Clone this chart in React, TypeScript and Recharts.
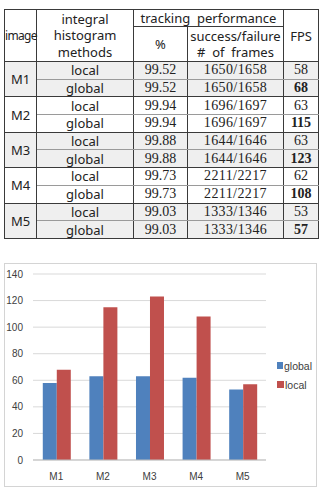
import React from 'react';
import { BarChart, Bar, XAxis, YAxis, CartesianGrid, Legend } from 'recharts';

// table values
const images = ['M1', 'M2', 'M3', 'M4', 'M5'];
const methods = ['local', 'global'];
const percents = ['99.52', '99.94', '99.88', '99.73', '99.03'];
const frames = ['1650/1658', '1696/1697', '1644/1646', '2211/2217', '1333/1346'];
const fpsLocal = [58, 63, 63, 62, 53];
const fpsGlobal = [68, 115, 123, 108, 57];

// chart values (as drawn in the figure)
const barGlobal = [58, 63, 63, 62, 53];
const barLocal = [68, 115, 123, 108, 57];
const yTicks = [0, 20, 40, 60, 80, 100, 120, 140];

const chartData = images.map((name, i) => ({ name, global: barGlobal[i], local: barLocal[i] }));

const sans = "'Noto Sans', 'Noto Sans CJK KR', sans-serif";
const serif = "'Liberation Serif', serif";
const axisFont = "'Liberation Sans', Arial, sans-serif";
const dark = '1px solid #3a3a3a';
const light = '1px solid #9a9a9a';

const cell = (extra: React.CSSProperties = {}): React.CSSProperties => ({
  padding: 0,
  textAlign: 'center',
  verticalAlign: 'middle',
  borderLeft: dark,
  borderRight: dark,
  ...extra,
});

const LegendBox = () => (
  <div style={{ width: 46, paddingLeft: 11, boxSizing: 'border-box', fontFamily: axisFont, fontSize: 10.5, color: '#404040' }}>
    {[{ label: 'global', color: '#4f81bd' }, { label: 'local', color: '#c0504d' }].map((it) => (
      <div key={it.label} style={{ display: 'flex', alignItems: 'center', height: 19 }}>
        <span style={{ display: 'inline-block', width: 7, height: 7, background: it.color, marginRight: 1 }} />
        <span>{it.label}</span>
      </div>
    ))}
  </div>
);

export default function App() {
  const rowH = 17.7;
  return (
    <div style={{ position: 'absolute', left: 0, top: 0, width: 322, height: 489, background: '#fff', overflow: 'hidden' }}>
      <table
        style={{
          position: 'absolute',
          left: 4,
          top: 9,
          width: 314,
          borderCollapse: 'collapse',
          tableLayout: 'fixed',
          border: dark,
          color: '#222',
        }}
      >
        <colgroup>
          <col style={{ width: 32 }} />
          <col style={{ width: 97 }} />
          <col style={{ width: 54 }} />
          <col style={{ width: 96 }} />
          <col style={{ width: 35 }} />
        </colgroup>
        <tbody>
          <tr style={{ height: 17 }}>
            <td rowSpan={2} style={cell({ fontFamily: sans, fontSize: 12, letterSpacing: -0.7, borderBottom: dark, whiteSpace: 'nowrap' })}>image</td>
            <td rowSpan={2} style={cell({ fontFamily: sans, fontSize: 13, lineHeight: '16.5px', borderBottom: dark })}>
              integral<br />histogram<br />methods
            </td>
            <td colSpan={2} style={cell({ fontFamily: sans, fontSize: 13, lineHeight: '15px', borderBottom: dark, whiteSpace: 'pre' })}>
              {'tracking  performance'}
            </td>
            <td rowSpan={2} style={cell({ fontFamily: sans, fontSize: 13, borderBottom: dark })}>FPS</td>
          </tr>
          <tr style={{ height: 35 }}>
            <td style={cell({ fontFamily: sans, fontSize: 13, borderBottom: dark })}>%</td>
            <td style={cell({ fontFamily: sans, fontSize: 13, lineHeight: '16px', borderBottom: dark, whiteSpace: 'pre' })}>
              {'success/failure\n#  of  frames'}
            </td>
          </tr>
          {images.map((img, i) =>
            methods.map((m, j) => {
              const bg = i % 2 === 0 ? '#efefef' : '#ffffff';
              const bottom = j === 0 ? light : dark;
              const fps = j === 0 ? fpsLocal[i] : fpsGlobal[i];
              return (
                <tr key={img + m} style={{ height: rowH, background: bg }}>
                  {j === 0 && (
                    <td rowSpan={2} style={cell({ fontFamily: sans, fontSize: 13, borderBottom: dark })}>{img}</td>
                  )}
                  <td style={cell({ fontFamily: sans, fontSize: 13, lineHeight: '16px', borderBottom: bottom })}>{m}</td>
                  <td style={cell({ fontFamily: serif, fontSize: 14, lineHeight: '16px', borderBottom: bottom })}>{percents[i]}</td>
                  <td style={cell({ fontFamily: serif, fontSize: 14, lineHeight: '16px', letterSpacing: 0.4, borderBottom: bottom })}>{frames[i]}</td>
                  <td style={cell({ fontFamily: serif, fontSize: 14, lineHeight: '16px', fontWeight: j === 1 ? 'bold' : 'normal', borderBottom: bottom })}>{fps}</td>
                </tr>
              );
            })
          )}
        </tbody>
      </table>

      <div
        style={{
          position: 'absolute',
          left: 4,
          top: 263,
          width: 313,
          height: 224,
          border: '1px solid #d4d4d4',
          boxSizing: 'border-box',
        }}
      >
        <BarChart
          width={311}
          height={222}
          data={chartData}
          margin={{ top: 10, right: 4, bottom: 0, left: 0 }}
          barGap={0}
          barCategoryGap="21%"
        >
          <CartesianGrid vertical={false} stroke="#d9d9d9" />
          <XAxis
            dataKey="name"
            axisLine={{ stroke: '#bfbfbf' }}
            tickLine={false}
            tickMargin={7}
            height={26}
            interval={0}
            tick={{ fontSize: 10, fill: '#404040', fontFamily: axisFont }}
          />
          <YAxis
            domain={[0, 140]}
            ticks={yTicks}
            width={28}
            axisLine={false}
            tickLine={false}
            tickMargin={4}
            interval={0}
            tick={{ fontSize: 10, fill: '#404040', fontFamily: axisFont }}
          />
          <Legend layout="vertical" align="right" verticalAlign="middle" width={46} content={<LegendBox />} />
          <Bar dataKey="global" fill="#4f81bd" isAnimationActive={false} />
          <Bar dataKey="local" fill="#c0504d" isAnimationActive={false} />
        </BarChart>
      </div>
    </div>
  );
}
